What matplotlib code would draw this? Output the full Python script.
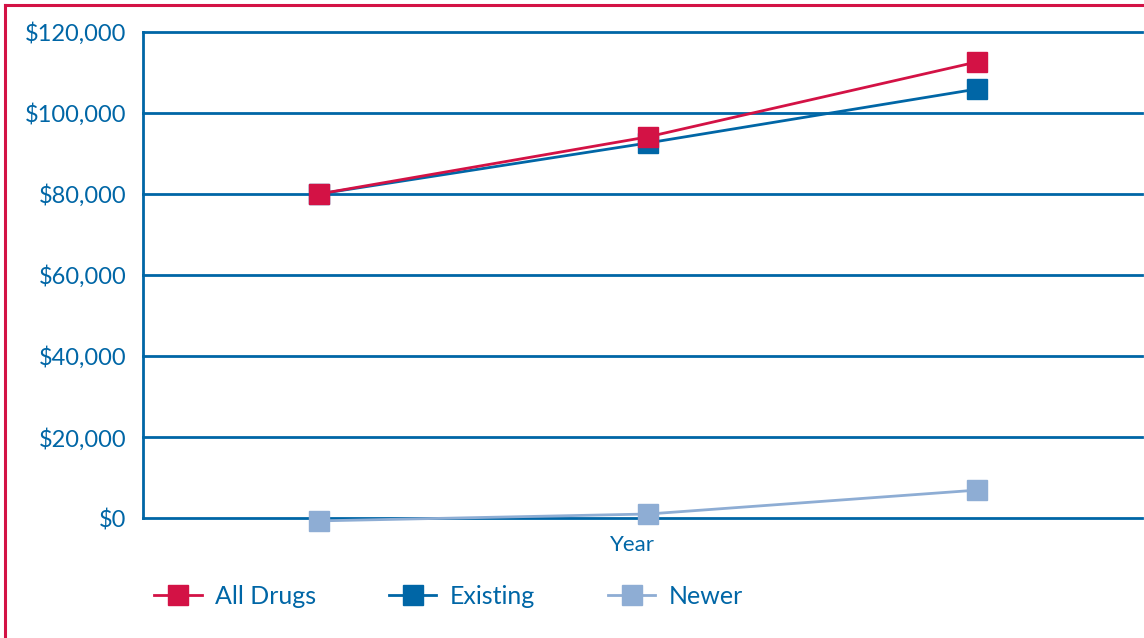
import matplotlib.pyplot as plt
from matplotlib.lines import Line2D
from matplotlib.ticker import FuncFormatter

# values
years = [0, 1, 2]
all_drugs = [80000, 94100, 112600]
existing = [80000, 92600, 105900]
newer = [-700, 1000, 6900]
yticks = [0, 20000, 40000, 60000, 80000, 100000, 120000]

BLUE = "#0066a6"
RED = "#d31245"
LIGHT = "#8eadd4"

plt.rcParams['font.family'] = ['Lato', 'DejaVu Sans']

fig = plt.figure(figsize=(11.44, 6.38), dpi=100)
ax = fig.add_axes([0.125, 0.188, 0.873, 0.762])

for y in yticks:
    ax.axhline(y, color=BLUE, lw=2, zorder=1)

ax.plot(years, newer, color=LIGHT, lw=2, marker='s', ms=14, label="Newer", zorder=3)
ax.plot(years, existing, color=BLUE, lw=2, marker='s', ms=14, label="Existing", zorder=4)
ax.plot(years, all_drugs, color=RED, lw=2, marker='s', ms=14, label="All Drugs", zorder=5)

ax.set_xlim(-0.535, 2.5)
ax.set_ylim(0, 120000)
ax.set_yticks(yticks)
ax.yaxis.set_major_formatter(FuncFormatter(lambda v, p: "${:,.0f}".format(v)))
ax.set_xticks([])
ax.tick_params(axis='y', length=0, pad=12, labelsize=17, labelcolor=BLUE)
for s in ['top', 'right', 'bottom']:
    ax.spines[s].set_visible(False)
ax.spines['left'].set_color(BLUE)
ax.spines['left'].set_linewidth(2)
for l in ax.lines:
    l.set_clip_on(False)
ax.set_xlabel("Year", color=BLUE, fontsize=16, labelpad=13)
ax.xaxis.set_label_coords(0.49, -0.035)
ax.xaxis.label.set_verticalalignment('top')

handles = [Line2D([], [], color=c, lw=2, marker='s', ms=14) for c in (RED, BLUE, LIGHT)]
fig.legend(handles, ["All Drugs", "Existing", "Newer"], loc='center left',
           bbox_to_anchor=(0.115, 0.065), ncol=3, frameon=False, fontsize=18,
           labelcolor=BLUE, handlelength=1.9, columnspacing=2.9, handletextpad=0.55)

# red frame on top and left
fig.add_artist(Line2D([0.0045, 1], [0.992, 0.992], color=RED, lw=2.2, transform=fig.transFigure))
fig.add_artist(Line2D([0.0045, 0.0045], [0, 0.992], color=RED, lw=2.2, transform=fig.transFigure))

fig.savefig("out.png", dpi=100)
